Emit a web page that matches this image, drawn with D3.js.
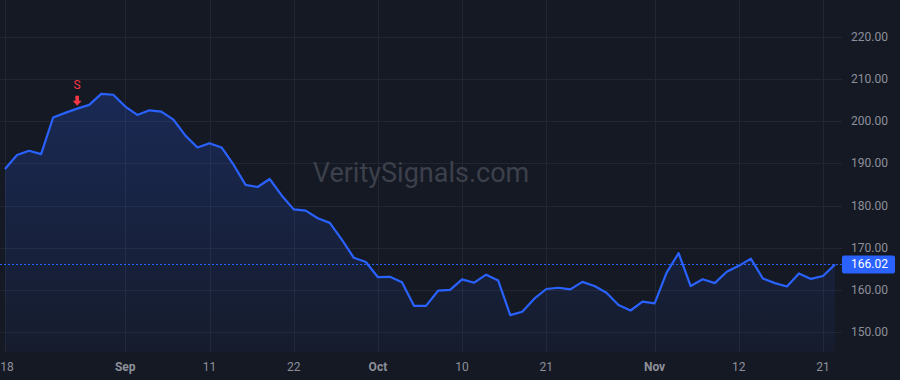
<!DOCTYPE html>
<html>
<head>
<meta charset="utf-8">
<script src="https://cdn.jsdelivr.net/npm/d3@7"></script>
<style>
    html,body{margin:0;padding:0;background:#151924;}
    svg{display:block;font-family:Roboto,"Liberation Sans",Arial,sans-serif;}
</style>
</head>
<body>
<svg id="chart" width="900" height="380"></svg>
<script>
"use strict";
//----------------------------------------
//Data (daily closes, trading days 2025)
var dates = [
    "2025-08-18","2025-08-19","2025-08-20","2025-08-21","2025-08-22",
    "2025-08-25","2025-08-26","2025-08-27","2025-08-28","2025-08-29",
    "2025-09-02","2025-09-03","2025-09-04","2025-09-05","2025-09-08",
    "2025-09-09","2025-09-10","2025-09-11","2025-09-12","2025-09-15",
    "2025-09-16","2025-09-17","2025-09-18","2025-09-19","2025-09-22",
    "2025-09-23","2025-09-24","2025-09-25","2025-09-26","2025-09-29",
    "2025-09-30","2025-10-01","2025-10-02","2025-10-03","2025-10-06",
    "2025-10-07","2025-10-08","2025-10-09","2025-10-10","2025-10-13",
    "2025-10-14","2025-10-15","2025-10-16","2025-10-17","2025-10-20",
    "2025-10-21","2025-10-22","2025-10-23","2025-10-24","2025-10-27",
    "2025-10-28","2025-10-29","2025-10-30","2025-10-31","2025-11-03",
    "2025-11-04","2025-11-05","2025-11-06","2025-11-07","2025-11-10",
    "2025-11-11","2025-11-12","2025-11-13","2025-11-14","2025-11-17",
    "2025-11-18","2025-11-19","2025-11-20","2025-11-21","2025-11-24"
];
var closes = [
    188.7,192.0,193.0,192.2,200.9,202.0,203.0,203.9,206.5,206.3,
    203.5,201.5,202.6,202.3,200.4,196.6,193.8,194.8,193.8,189.7,
    184.9,184.4,186.3,182.4,179.1,178.8,177.0,175.9,171.9,167.6,
    166.6,163.0,163.1,161.8,156.2,156.2,159.8,160.0,162.5,161.7,
    163.6,162.2,154.0,154.8,157.9,160.2,160.5,160.1,161.9,160.9,
    159.3,156.4,155.1,157.2,156.8,164.1,168.7,160.9,162.5,161.6,
    164.3,165.7,167.4,162.7,161.6,160.8,163.9,162.6,163.3,166.02
];
var tickDates = ["2025-08-18","2025-09-02","2025-09-11","2025-09-22","2025-10-01",
                 "2025-10-10","2025-10-21","2025-11-03","2025-11-12","2025-11-21"];
var tickLabels = ["18","Sep","11","22","Oct","10","21","Nov","12","21"];
var monthTicks = ["Sep","Oct","Nov"];
var priceTicks = [150,160,170,180,190,200,210,220];
var signals = [{date:"2025-08-26",label:"S"}];
var lastPrice = 166.02;

//----------------------------------------
//Setup
var width = 900, height = 380,
    plotRight = 842, plotBottom = 352,
    colours = {
        bg:"#151924", grid:"#222631", text:"#8d909a",
        line:"#2962ff", sell:"#f23645"
    };

var svg = d3.select("#chart");

//index based x scale, so weekends do not leave gaps
var xScale = d3.scaleLinear()
    .domain([0,68])
    .range([5,823]);
var yScale = d3.scaleLinear()
    .domain([150,220])
    .range([332,37]);

var data = closes.map(function(d,i){
    return {i:i,date:dates[i],value:d};
});
var indexOf = function(date){ return dates.indexOf(date); };

//Gradient for the area
var defs = svg.append("defs");
var grad = defs.append("linearGradient")
    .attr("id","areaFill")
    .attr("x1",0).attr("y1",0).attr("x2",0).attr("y2",1);
grad.append("stop").attr("offset","0%").attr("stop-color",colours.line).attr("stop-opacity",0.22);
grad.append("stop").attr("offset","100%").attr("stop-color",colours.line).attr("stop-opacity",0.04);

defs.append("clipPath").attr("id","plotClip")
    .append("rect").attr("width",plotRight).attr("height",plotBottom);

svg.append("rect")
    .attr("width",width).attr("height",height)
    .style("fill",colours.bg);

//----------------------------------------
//Grid
var grid = svg.append("g").attr("class","grid");
grid.selectAll("line.h").data(priceTicks).enter()
    .append("line")
    .attr("class","h")
    .attr("x1",0).attr("x2",plotRight)
    .attr("y1",d=>Math.round(yScale(d))+0.5)
    .attr("y2",d=>Math.round(yScale(d))+0.5)
    .style("stroke",colours.grid);
grid.selectAll("line.v").data(tickDates).enter()
    .append("line")
    .attr("class","v")
    .attr("y1",0).attr("y2",plotBottom)
    .attr("x1",d=>Math.round(xScale(indexOf(d)))+0.5)
    .attr("x2",d=>Math.round(xScale(indexOf(d)))+0.5)
    .style("stroke",colours.grid);

//Watermark
svg.append("text")
    .attr("x",421).attr("y",182)
    .style("text-anchor","middle")
    .style("font-size","27px")
    .style("fill","#3c404b")
    .text("VeritySignals.com");

//----------------------------------------
//Area + line
var plot = svg.append("g").attr("clip-path","url(#plotClip)");

var area = d3.area()
    .x(d=>xScale(d.i))
    .y0(plotBottom)
    .y1(d=>yScale(d.value));
var line = d3.line()
    .x(d=>xScale(d.i))
    .y(d=>yScale(d.value));

plot.append("path")
    .datum(data)
    .attr("d",area)
    .style("fill","url(#areaFill)");

//last price dotted line
plot.append("line")
    .attr("x1",0).attr("x2",plotRight)
    .attr("y1",yScale(lastPrice)).attr("y2",yScale(lastPrice))
    .style("stroke",colours.line)
    .style("stroke-width",1)
    .style("stroke-dasharray","2,2");

plot.append("path")
    .datum(data)
    .attr("d",line)
    .style("fill","none")
    .style("stroke",colours.line)
    .style("stroke-width",2.2)
    .style("stroke-linejoin","round");

//Signal markers
var sig = svg.selectAll("g.signal").data(signals).enter()
    .append("g")
    .attr("class","signal")
    .attr("transform",function(d){
        var i = indexOf(d.date);
        return "translate(" + xScale(i) + "," + (yScale(closes[i]) - 3) + ")";
    });
sig.append("path")
    .attr("d","M-1.8,-10 L1.8,-10 L1.8,-5 L4.5,-5 L0,0 L-4.5,-5 L-1.8,-5 Z")
    .style("fill",colours.sell);
sig.append("text")
    .attr("y",-17)
    .style("text-anchor","middle")
    .style("font-size","12px")
    .style("fill",colours.sell)
    .text(d=>d.label);

//----------------------------------------
//Axes
svg.append("g").selectAll("text").data(priceTicks).enter()
    .append("text")
    .attr("x",888).attr("y",d=>yScale(d)+4)
    .style("text-anchor","end")
    .style("font-size","12px")
    .style("fill",colours.text)
    .text(d=>d3.format(".2f")(d));

//keep the first label inside the window
svg.append("g").selectAll("text").data(tickLabels).enter()
    .append("text")
    .attr("x",(d,i)=>Math.max(xScale(indexOf(tickDates[i])),7))
    .attr("y",371)
    .style("text-anchor","middle")
    .style("font-size","12px")
    .style("font-weight",d=>monthTicks.indexOf(d) >= 0 ? "bold" : "normal")
    .style("fill",colours.text)
    .text(d=>d);

//price label
var py = yScale(lastPrice);
svg.append("rect")
    .attr("x",842).attr("y",py-9)
    .attr("width",53).attr("height",18)
    .attr("rx",2)
    .style("fill",colours.line);
svg.append("text")
    .attr("x",888).attr("y",py+4)
    .style("text-anchor","end")
    .style("font-size","12px")
    .style("fill","#ffffff")
    .text(d3.format(".2f")(lastPrice));
</script>
</body>
</html>
